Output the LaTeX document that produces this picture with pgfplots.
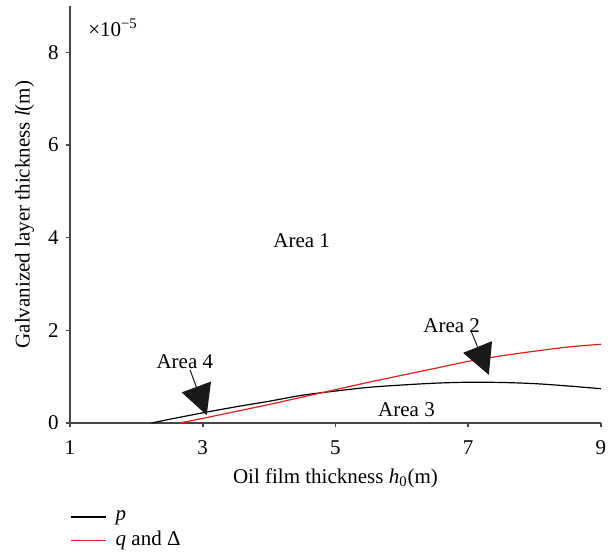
\documentclass[border=0pt]{standalone}
\usepackage{fontspec}
\setmainfont{Liberation Serif}
\usepackage{pgfplots}
\usepackage{pgfplotstable}
\pgfplotsset{compat=1.18}
\usetikzlibrary{arrows.meta}

\definecolor{qred}{RGB}{228,30,28}
\definecolor{axgray}{RGB}{70,70,70}

% boundary curve p (units of 1e-5 m)
\pgfplotstableread{
h l
2.23 0
2.5 0.08
3 0.22
3.5 0.35
4 0.47
4.5 0.60
5 0.69
5.5 0.77
6 0.82
6.5 0.86
7 0.88
7.5 0.875
8 0.85
8.5 0.80
9 0.74
}\pcurve

% boundary curve q and Delta (units of 1e-5 m)
\pgfplotstableread{
h l
2.65 0
3 0.10
3.5 0.25
4 0.40
4.5 0.56
5 0.72
5.5 0.88
6 1.03
6.5 1.18
7 1.33
7.5 1.45
8 1.55
8.5 1.64
9 1.70
}\qcurve

\begin{document}
\begin{tikzpicture}[font=\fontsize{10.5}{12.6}\selectfont]
\begin{axis}[
  at={(0,0)}, anchor=south west,
  scale only axis, width=265.5pt, height=208.5pt,
  xmin=1, xmax=9, ymin=0, ymax=9,
  axis x line=bottom, axis y line=left,
  axis line style={-, line width=0.8pt, axgray},
  xtick={1,3,5,7,9}, ytick={0,2,4,6,8},
  tick align=outside, major tick length=2.2pt,
  tick style={line width=0.8pt, axgray},
  xticklabel style={yshift=-3pt},
  /pgf/number format/assume math mode=true,
  xlabel={Oil film thickness \textit{h}\textsubscript{0}(m)},
  ylabel={Galvanized layer thickness \textit{l}(m)},
  xlabel style={at={(axis description cs:0.5,-0.132)}, anchor=center},
  ylabel style={at={(axis description cs:-0.0857,0.5)}, anchor=center},
  legend cell align=left,
  legend style={at={(axis description cs:0,-0.204)}, anchor=north west,
    draw=none, fill=none, inner xsep=0pt, inner ysep=0pt,
    nodes={inner sep=1pt}, row sep=2pt,
    /tikz/every odd column/.append style={column sep=4pt}},
  clip=false,
]
\addplot[black, line width=0.6pt, smooth] table[x=h, y=l] {\pcurve};
\addlegendentry{\textit{p}}
\addplot[qred, line width=0.6pt, smooth] table[x=h, y=l] {\qcurve};
\addlegendentry{\textit{q} and Δ}

\node[anchor=west] at (axis cs:1.17,8.52) {×10\textsuperscript{−5}};
\node at (axis cs:4.49,3.93) {Area 1};
\node at (axis cs:6.75,2.11) {Area 2};
\node at (axis cs:6.07,0.28) {Area 3};
\node at (axis cs:2.73,1.32) {Area 4};

\draw[line width=0.5pt, black!90, -{Triangle[length=15pt,width=15.5pt]}]
  (axis cs:2.81,1.14) -- (axis cs:3.06,0.17);
\draw[line width=0.5pt, black!90, -{Triangle[length=15pt,width=15.5pt]}]
  (axis cs:7.05,1.96) -- (axis cs:7.31,1.04);
\end{axis}
\pgfresetboundingbox
\path[use as bounding box] (-35pt,-65pt) rectangle (271.5pt,211.5pt);
\end{tikzpicture}
\end{document}
